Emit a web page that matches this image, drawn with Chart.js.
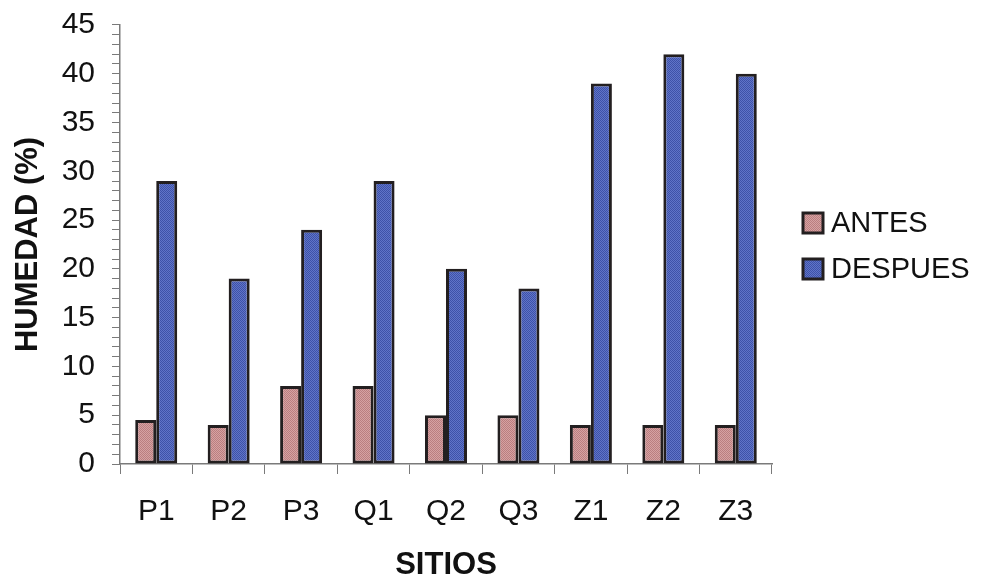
<!DOCTYPE html>
<html>
<head>
<meta charset="utf-8">
<script src="https://cdn.jsdelivr.net/npm/chart.js@4.4.1/dist/chart.umd.min.js"></script>
<style>
  html, body { margin: 0; padding: 0; background: #fff; }
  #wrap { width: 987px; height: 577px; }
</style>
</head>
<body>
<div id="wrap"><canvas id="chart"></canvas></div>
<script>
const sitios = ['P1', 'P2', 'P3', 'Q1', 'Q2', 'Q3', 'Z1', 'Z2', 'Z3'];
const antes = [4.5, 4, 8, 8, 5, 5, 4, 4, 4];
const despues = [29, 19, 24, 29, 20, 18, 39, 42, 40];

// small dithered fill, two shades in a checker
function dither(light, dark) {
  const c = document.createElement('canvas');
  c.width = 2;
  c.height = 2;
  const g = c.getContext('2d');
  g.fillStyle = light;
  g.fillRect(0, 0, 2, 2);
  g.fillStyle = dark;
  g.fillRect(0, 0, 1, 1);
  g.fillRect(1, 1, 1, 1);
  return g.createPattern(c, 'repeat');
}

const ctx = document.getElementById('chart').getContext('2d');
const pinkFill = dither('rgb(214,162,162)', 'rgb(186,126,128)');
const blueFill = dither('rgb(96,116,200)', 'rgb(62,82,168)');

const axisGray = '#7a7a7a';
const family = 'Liberation Sans, Arial, sans-serif';
const font = { family, size: 30 };

// legend drawn in the right margin, boxes stacked beside the plot
const sideLegend = {
  id: 'sideLegend',
  afterDraw(chart) {
    const c = chart.ctx;
    c.save();
    c.font = `29px ${family}`;
    c.textBaseline = 'middle';
    chart.data.datasets.forEach((ds, i) => {
      const y = 223 + i * 46;
      c.fillStyle = ds.backgroundColor;
      c.fillRect(803, y - 10, 20, 20);
      c.lineWidth = 3;
      c.strokeStyle = '#231f20';
      c.strokeRect(803, y - 10, 20, 20);
      c.fillStyle = '#111';
      c.fillText(ds.label, 831, y + 1);
    });
    c.restore();
  },
};

new Chart(ctx, {
  type: 'bar',
  data: {
    labels: sitios,
    datasets: [
      {
        label: 'ANTES',
        data: antes,
        backgroundColor: pinkFill,
        borderColor: '#231f20',
        borderWidth: 3,
        borderSkipped: false,
      },
      {
        label: 'DESPUES',
        data: despues,
        backgroundColor: blueFill,
        borderColor: '#231f20',
        borderWidth: 3,
        borderSkipped: false,
      },
    ],
  },
  plugins: [sideLegend],
  options: {
    responsive: true,
    maintainAspectRatio: false,
    animation: false,
    datasets: {
      bar: { categoryPercentage: 0.58, barPercentage: 1 },
    },
    layout: { padding: { top: 0, right: 215, left: 0, bottom: 0 } },
    plugins: {
      tooltip: { enabled: false },
      legend: { display: false },
    },
    scales: {
      x: {
        grid: {
          offset: true,
          drawOnChartArea: false,
          drawTicks: true,
          tickLength: 10,
          color: axisGray,
        },
        border: { color: axisGray, width: 1.5 },
        ticks: { color: '#111', font, padding: 20, maxRotation: 0 },
        title: {
          display: true,
          text: 'SITIOS',
          color: '#111',
          font: { family, size: 31, weight: 'bold', lineHeight: 1 },
          padding: { top: 0, bottom: -4 },
        },
        afterFit: (scale) => { scale.height = 113; },
      },
      y: {
        min: 0,
        max: 45,
        grid: {
          drawOnChartArea: false,
          drawTicks: true,
          tickLength: 8,
          color: axisGray,
        },
        border: { color: axisGray, width: 1.5 },
        ticks: {
          stepSize: 1,
          autoSkip: false,
          color: '#111',
          // tight line height keeps the top label from pushing the plot down
          font: { family, size: 30, lineHeight: 0.53 },
          padding: 17,
          callback: (v) => (v % 5 === 0 ? v : ''),
        },
        title: {
          display: true,
          text: 'HUMEDAD (%)',
          color: '#111',
          font: { family, size: 31, weight: 'bold' },
          padding: { top: 10, bottom: 0 },
        },
        afterFit: (scale) => { scale.width = 120; },
      },
    },
  },
});
</script>
</body>
</html>
